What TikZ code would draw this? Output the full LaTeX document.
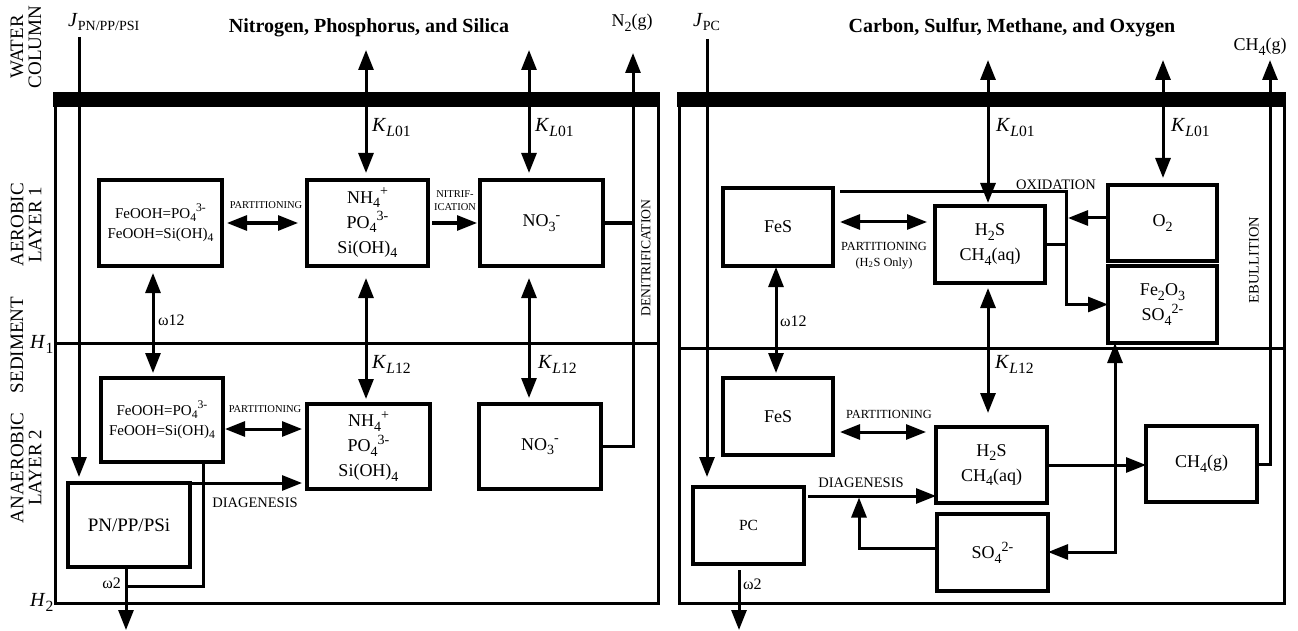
\documentclass[tikz,border=0pt]{standalone}
\usepackage{fontspec}
\usepackage{graphicx}
\setmainfont{Liberation Serif}
\usetikzlibrary{arrows.meta}
\tikzset{
  >={Triangle[length=20pt,width=15pt]},
  box/.style={draw, line width=3.3pt, inner sep=0pt, outer sep=0pt, align=center, font=\fontsize{18}{25}\selectfont},
  fbox/.style={box, font=\fontsize{15}{20}\selectfont},
  ln/.style={line width=3pt},
  arr/.style={ln, ->},
  darr/.style={ln, <->},
  bar/.style={fill=black, inner sep=0pt, outer sep=0pt, minimum height=15pt},
  panel/.style={line width=3pt},
  ttl/.style={font=\bfseries\fontsize{20}{24}\selectfont, anchor=base, inner sep=0pt},
  side/.style={font=\fontsize{19}{18}\selectfont, align=center, inner sep=0pt, rotate=90},
  sml/.style={font=\fontsize{10.5}{13}\selectfont, inner sep=0pt, anchor=base},
  smr/.style={font=\fontsize{12.4}{15}\selectfont, inner sep=0pt, anchor=base},
  mid/.style={font=\fontsize{14.5}{16}\selectfont, inner sep=0pt, anchor=base},
  kl/.style={font=\fontsize{20}{20}\selectfont, inner sep=0pt, anchor=base west},
  om/.style={font=\fontsize{16}{16}\selectfont, inner sep=0pt, anchor=base west},
  gas/.style={font=\fontsize{18}{20}\selectfont, inner sep=0pt, anchor=base},
}
\newcommand{\sub}[1]{\raisebox{-0.25em}{\scalebox{0.78}{#1}}}
\newcommand{\sps}[1]{\raisebox{0.42em}{\scalebox{0.78}{#1}}}
\begin{document}
\begin{tikzpicture}[x=1pt,y=-1pt]
\useasboundingbox (0,0) rectangle (1298,631);

% ---------------- side labels ----------------
\node[side] (swc) at (26,47) {WATER\\COLUMN};
\node[side] (sae) at (26,225) {AEROBIC\\LAYER 1};
\node[side] (sse) at (17,345) {SEDIMENT};
\node[side] (san) at (26,468) {ANAEROBIC\\LAYER 2};
\node[kl] (h1) at (30,348) {\textit{H}\sub{1}};
\node[kl] (h2) at (30,606) {\textit{H}\sub{2}};

% ---------------- left panel ----------------
\node[bar, minimum width=607pt] (barA) at (356.5,99.5) {};
\draw[panel] (55,107) -- (55,603) -- (658,603) -- (658,107);
\draw[panel] (55,343) -- (658,343);

\node[ttl] (t1) at (369,33) {Nitrogen, Phosphorus, and Silica};

\node[fbox, minimum width=123pt, minimum height=86pt] (feA) at (160.5,223) {FeOOH=PO\sub{4}\sps{3-}\\FeOOH=Si(OH)\sub{4}};
\node[box, minimum width=121pt, minimum height=86pt] (nhA) at (367.5,223) {NH\sub{4}\sps{+}\\PO\sub{4}\sps{3-}\\Si(OH)\sub{4}};
\node[box, minimum width=123pt, minimum height=86pt] (noA) at (541.5,223) {NO\sub{3}\sps{-}};
\node[fbox, minimum width=122pt, minimum height=84pt] (feB) at (162,420) {FeOOH=PO\sub{4}\sps{3-}\\FeOOH=Si(OH)\sub{4}};
\node[box, minimum width=123pt, minimum height=85pt] (nhB) at (368.5,446.5) {NH\sub{4}\sps{+}\\PO\sub{4}\sps{3-}\\Si(OH)\sub{4}};
\node[box, minimum width=122pt, minimum height=85pt] (noB) at (540,446.5) {NO\sub{3}\sps{-}};
\node[box, minimum width=122pt, minimum height=84pt, font=\fontsize{19}{22}\selectfont] (pn) at (129,525) {PN/PP/PSi};

\node[inner sep=0pt, anchor=base west] (jlA) at (68,27) {{\fontsize{20}{20}\selectfont\textit{J}}\raisebox{-4pt}{\fontsize{14}{14}\selectfont PN/PP/PSI}};
\node[gas] (n2) at (632,27) {N\sub{2}(g)};

\coordinate (jA) at (79,37);
\draw[arr, shorten >=6pt] (jA) -- (jA |- pn.north);

\coordinate (kA1) at (366,50);
\coordinate (kA2) at (529,50);
\draw[darr, shorten >=7pt] (kA1) -- (kA1 |- nhA.north);
\draw[darr, shorten >=7pt] (kA2) -- (kA2 |- noA.north);
\node[kl] (klA1) at (372,132) {\textit{K}\sub{\textit{L}01}};
\node[kl] (klA2) at (535,132) {\textit{K}\sub{\textit{L}01}};

\coordinate (nA) at (633,53);
\draw[ln] (noA.east) -- (noA.east -| nA);
\draw[arr] (noB.east) -- (noB.east -| nA) -- (nA);
\node[side, font=\fontsize{13.7}{16}\selectfont] (den) at (646,258) {DENITRIFICATION};

\draw[darr, shorten <=5pt, shorten >=9pt] (feA.east) -- (nhA.west);
\node[sml] (paA) at (266,209) {PARTITIONING};
\draw[arr, shorten <=4pt, shorten >=3pt] (nhA.east) -- (noA.west);
\node[sml] (nit) at (455,197) {NITRIF-};
\node[sml] (nit2) at (455,211) {ICATION};

\coordinate (wA) at (153,0);
\draw[darr, shorten <=7pt, shorten >=5pt] (feA.south -| wA) -- (feB.north -| wA);
\node[om] (omA) at (158,325) {ω12};
\draw[darr, shorten <=12pt, shorten >=5pt] (nhA.south -| kA1) -- (nhB.north -| kA1);
\draw[darr, shorten <=12pt, shorten >=6pt] (noA.south -| kA2) -- (noB.north -| kA2);
\node[kl] (klA3) at (372,368) {\textit{K}\sub{\textit{L}12}};
\node[kl] (klA4) at (538,368) {\textit{K}\sub{\textit{L}12}};

\coordinate (pB) at (0,429);
\draw[darr, shorten <=2pt, shorten >=5pt] (feB.east |- pB) -- (nhB.west |- pB);
\node[sml] (paB) at (265,412) {PARTITIONING};
\draw[arr, shorten >=5pt] (pn.north east) -- (nhB.west |- pn.north east);
\node[mid] (diA) at (255,507) {DIAGENESIS};

\coordinate (dB) at (203,586);
\coordinate (w2A) at (126,630);
\draw[ln] (feB.south -| dB) -- (dB) -- (dB -| w2A);
\draw[arr] (pn.south -| w2A) -- (w2A);
\node[om, anchor=base east] (om2A) at (121,588) {ω2};

% ---------------- right panel ----------------
\node[bar, minimum width=609pt] (barB) at (981.5,99.5) {};
\draw[panel] (679,107) -- (679,603) -- (1284,603) -- (1284,107);
\draw[panel] (679,348) -- (1284,348);

\node[ttl] (t2) at (1012,33) {Carbon, Sulfur, Methane, and Oxygen};

\node[box, minimum width=110pt, minimum height=78pt] (fesA) at (778,227) {FeS};
\node[box, minimum width=110pt, minimum height=77pt] (h2sA) at (990,244.5) {H\sub{2}S\\CH\sub{4}(aq)};
\node[box, minimum width=109pt, minimum height=76pt] (o2) at (1162.5,223) {O\sub{2}};
\node[box, minimum width=109pt, minimum height=77pt] (fe2o3) at (1162.5,304.5) {Fe\sub{2}O\sub{3}\\SO\sub{4}\sps{2-}};
\node[box, minimum width=110pt, minimum height=77pt] (fesB) at (778,416.5) {FeS};
\node[box, minimum width=111pt, minimum height=76pt] (h2sB) at (991.5,465) {H\sub{2}S\\CH\sub{4}(aq)};
\node[box, minimum width=111pt, minimum height=76pt] (ch4g) at (1201.5,464) {CH\sub{4}(g)};
\node[box, minimum width=111pt, minimum height=77pt] (so4) at (992.5,552.5) {SO\sub{4}\sps{2-}};
\node[box, minimum width=111pt, minimum height=77pt, font=\fontsize{15.5}{18}\selectfont] (pc) at (748.5,525.5) {PC};

\node[inner sep=0pt, anchor=base west] (jlB) at (693,27) {{\fontsize{20}{20}\selectfont\textit{J}}\raisebox{-4pt}{\fontsize{14}{14}\selectfont PC}};
\node[gas] (ch4l) at (1260,51) {CH\sub{4}(g)};

\coordinate (jB) at (707,39);
\draw[arr, shorten >=10pt] (jB) -- (jB |- pc.north);

\coordinate (kB1) at (988,60);
\coordinate (kB2) at (1163,60);
\draw[darr, shorten >=3pt] (kB1) -- (kB1 |- h2sA.north);
\draw[darr, shorten >=7pt] (kB2) -- (kB2 |- o2.north);
\node[kl] (klB1) at (996,132) {\textit{K}\sub{\textit{L}01}};
\node[kl] (klB2) at (1171,132) {\textit{K}\sub{\textit{L}01}};

\coordinate (cB) at (1270,60);
\draw[arr] (ch4g.east) -- (ch4g.east -| cB) -- (cB);
\node[side, font=\fontsize{14.5}{16}\selectfont] (ebu) at (1254,260) {EBULLITION};

\coordinate (pA2) at (0,222);
\draw[darr, shorten <=7pt, shorten >=8pt] (fesA.east |- pA2) -- (h2sA.west |- pA2);
\node[smr] (paC) at (884,250) {PARTITIONING};
\node[smr] (paC2) at (884,266) {(H\textsubscript{2}S Only)};

\coordinate (ox) at (1066,192);
\draw[arr] ([xshift=7pt,yshift=-4pt]fesA.north east) -- (ox) -- (ox |- fe2o3.west) -- (fe2o3.west);
\draw[ln] (h2sA.east) -- (h2sA.east -| ox);
\coordinate (oo) at (0,218);
\draw[arr, shorten >=2pt] (o2.west |- oo) -- (ox |- oo);
\node[mid] (oxl) at (1056,190) {OXIDATION};

\coordinate (wB) at (776,0);
\draw[darr, shorten <=1pt, shorten >=5pt] (fesA.south -| wB) -- (fesB.north -| wB);
\node[om] (omB) at (780,326) {ω12};
\draw[darr, shorten <=5pt, shorten >=14pt] (h2sA.south -| kB1) -- (h2sB.north -| kB1);
\node[kl] (klB3) at (995,368) {\textit{K}\sub{\textit{L}12}};

\coordinate (pB2) at (0,432);
\draw[darr, shorten <=7pt, shorten >=10pt] (fesB.east |- pB2) -- (h2sB.west |- pB2);
\node[smr] (paD) at (889,418) {PARTITIONING};

\coordinate (dg) at (0,496);
\draw[arr, shorten <=4pt] (pc.east |- dg) -- (h2sB.west |- dg);
\node[mid] (diB) at (861,487) {DIAGENESIS};
\coordinate (sd) at (859,548);
\draw[arr, shorten >=1.5pt] (so4.west |- sd) -- (sd) -- (sd |- dg);

\coordinate (vv) at (1115,552);
\draw[darr] (so4.east |- vv) -- (vv) -- (vv |- fe2o3.south);
\draw[arr] (h2sB.east) -- (ch4g.west |- h2sB.east);

\coordinate (w2B) at (739,630);
\draw[arr, shorten <=6pt] (pc.south -| w2B) -- (w2B);
\node[om] (om2B) at (743,589) {ω2};
\end{tikzpicture}
\end{document}
